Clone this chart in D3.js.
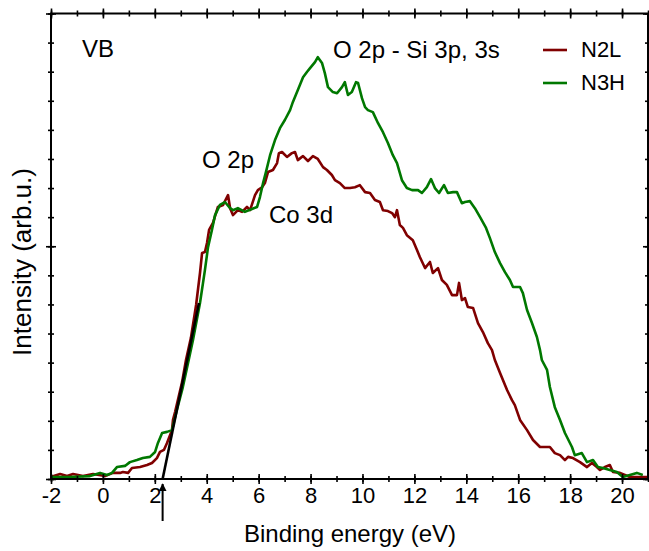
<!DOCTYPE html>
<html>
<head>
<meta charset="utf-8">
<script src="https://cdn.jsdelivr.net/npm/d3@7"></script>
<style>
  body { margin: 0; background: #fff; }
  text { font-family: "Liberation Sans", Arial, sans-serif; fill: #000; }
</style>
</head>
<body>
<div id="viz"></div>
<script>
// binding energy (eV) and intensity (arb.u.)
const n2lEnergy = [-2.00, -1.65, -1.38, -1.15, -0.77, -0.38, 0.08, 0.39, 0.66, 0.77, 0.97, 1.12, 1.43, 1.70, 1.89, 2.08, 2.20, 2.35, 2.47, 2.66, 2.70, 2.78, 3.05, 3.20, 3.39, 3.59, 3.74, 3.82, 3.93, 4.01, 4.09, 4.24, 4.43, 4.63, 4.82, 4.90, 5.01, 5.20, 5.36, 5.55, 5.67, 5.86, 5.97, 6.13, 6.24, 6.36, 6.55, 6.71, 6.78, 6.90, 7.09, 7.28, 7.40, 7.51, 7.71, 7.90, 8.09, 8.28, 8.48, 8.63, 8.82, 8.94, 9.13, 9.32, 9.52, 9.71, 9.90, 10.10, 10.29, 10.48, 10.67, 10.79, 10.98, 11.14, 11.25, 11.33, 11.44, 11.56, 11.71, 11.94, 12.10, 12.21, 12.41, 12.60, 12.71, 12.91, 13.06, 13.25, 13.45, 13.64, 13.72, 13.83, 13.95, 14.06, 14.26, 14.45, 14.64, 14.83, 14.99, 15.10, 15.30, 15.57, 15.76, 15.87, 16.07, 16.34, 16.57, 16.84, 17.22, 17.41, 17.61, 17.80, 17.92, 18.11, 18.38, 18.65, 18.84, 19.03, 19.15, 19.34, 19.53, 19.65, 19.92, 20.11, 20.30, 20.57, 20.80, 21.00];
const n2lIntensity = [0.07, 0.17, 0.10, 0.17, 0.10, 0.17, 0.10, 0.21, 0.21, 0.24, 0.21, 0.38, 0.41, 0.48, 0.55, 0.72, 0.93, 1.00, 1.24, 1.68, 2.03, 2.30, 3.33, 4.09, 4.85, 5.98, 7.08, 7.77, 7.80, 8.11, 8.56, 8.80, 9.35, 9.42, 9.76, 9.31, 9.07, 9.24, 9.18, 9.35, 9.24, 9.76, 9.93, 10.03, 10.17, 10.55, 10.62, 10.86, 11.20, 11.24, 11.07, 11.20, 11.24, 10.96, 11.10, 10.93, 11.10, 11.00, 10.72, 10.62, 10.45, 10.27, 10.17, 10.00, 10.00, 10.03, 10.10, 9.86, 9.83, 9.59, 9.52, 9.24, 9.21, 9.14, 9.00, 9.24, 8.73, 8.63, 8.38, 8.21, 7.87, 7.63, 7.25, 7.46, 7.08, 7.25, 6.84, 6.67, 6.32, 6.32, 6.74, 6.15, 6.22, 5.91, 5.88, 5.36, 5.05, 4.67, 4.43, 4.09, 3.64, 3.06, 2.71, 2.54, 2.03, 1.68, 1.34, 1.10, 1.10, 0.89, 0.82, 0.65, 0.76, 0.72, 0.58, 0.41, 0.55, 0.41, 0.31, 0.41, 0.48, 0.24, 0.21, 0.14, 0.07, 0.07, 0.07, 0.07];

const n3hEnergy = [-2.00, -1.27, -0.50, -0.11, 0.16, 0.35, 0.54, 0.85, 1.04, 1.31, 1.54, 1.81, 2.01, 2.12, 2.28, 2.47, 2.66, 2.85, 3.08, 3.28, 3.47, 3.74, 3.93, 4.05, 4.20, 4.32, 4.51, 4.70, 4.90, 5.01, 5.20, 5.47, 5.74, 5.94, 6.05, 6.17, 6.28, 6.44, 6.63, 6.82, 7.01, 7.21, 7.32, 7.51, 7.71, 7.86, 7.98, 8.17, 8.28, 8.44, 8.55, 8.67, 8.86, 9.02, 9.21, 9.32, 9.44, 9.59, 9.75, 9.83, 9.98, 10.10, 10.21, 10.40, 10.60, 10.79, 10.98, 11.17, 11.33, 11.52, 11.71, 11.91, 12.14, 12.29, 12.48, 12.64, 12.79, 12.95, 13.14, 13.29, 13.49, 13.64, 13.83, 13.95, 14.14, 14.33, 14.53, 14.76, 14.91, 15.10, 15.30, 15.49, 15.68, 15.80, 16.07, 16.18, 16.34, 16.53, 16.72, 16.84, 16.91, 17.11, 17.22, 17.41, 17.61, 17.80, 18.07, 18.18, 18.45, 18.65, 18.88, 19.07, 19.26, 19.53, 19.80, 20.03, 20.30, 20.57, 20.80];
const n3hIntensity = [0.07, 0.07, 0.10, 0.21, 0.14, 0.21, 0.41, 0.45, 0.58, 0.65, 0.72, 0.76, 0.93, 1.24, 1.58, 1.62, 1.68, 2.37, 3.16, 3.99, 4.78, 6.05, 7.18, 7.97, 8.56, 9.07, 9.42, 9.52, 9.31, 9.24, 9.31, 9.18, 9.28, 9.35, 9.69, 10.17, 10.55, 11.13, 11.65, 12.06, 12.34, 12.68, 12.96, 13.37, 13.81, 13.99, 14.12, 14.33, 14.50, 14.30, 13.95, 13.47, 13.30, 13.26, 13.47, 13.64, 13.20, 13.30, 13.64, 13.61, 13.09, 12.78, 12.68, 12.61, 12.23, 11.92, 11.55, 11.13, 10.86, 10.27, 10.00, 9.93, 9.93, 9.83, 10.03, 10.31, 10.00, 9.83, 10.10, 9.83, 9.86, 9.86, 9.48, 9.52, 9.55, 9.31, 9.00, 8.63, 8.28, 7.80, 7.42, 7.11, 6.84, 6.60, 6.60, 6.39, 5.81, 5.36, 4.88, 4.43, 4.09, 3.75, 3.16, 2.47, 2.03, 1.58, 1.10, 0.82, 0.89, 0.58, 0.65, 0.41, 0.38, 0.31, 0.24, 0.07, 0.14, 0.21, 0.14];

const seriesNames = ['N2L', 'N3H'];
const seriesColors = ['#800000', '#007800'];
const xTickValues = d3.range(-2, 21, 2);
const xMinorValues = d3.range(-2, 22, 1);
const yMinorValues = d3.range(0, 17, 1);
const yMajorValues = [0, 8, 16];

// onset tangent on the leading edge
const tangentEnergy = [2.30, 3.70];
const tangentIntensity = [0, 6.05];
const onsetEnergy = 2.30;

const annotations = [
  {text: 'VB', x: 82, y: 57},
  {text: 'O 2p - Si 3p, 3s', x: 333, y: 58},
  {text: 'O 2p', x: 202, y: 168},
  {text: 'Co 3d', x: 269, y: 223}
];

const W = 649, H = 551,
    margin = {top: 13.5, right: 1, bottom: 72, left: 51},
    width = W - margin.left - margin.right,
    height = H - margin.top - margin.bottom;

const svg = d3.select('#viz').append('svg')
    .attr('width', W)
    .attr('height', H);

const x = d3.scaleLinear().domain([-2, 21]).range([margin.left, margin.left + width]);
const y = d3.scaleLinear().domain([0, 16]).range([margin.top + height, margin.top]);

svg.append('defs').append('clipPath').attr('id', 'clip')
  .append('rect')
    .attr('x', margin.left).attr('y', margin.top)
    .attr('width', width).attr('height', height);

const line = d3.line()
    .x(d => x(d[0]))
    .y(d => y(d[1]));

const series = [
  d3.zip(n2lEnergy, n2lIntensity),
  d3.zip(n3hEnergy, n3hIntensity)
];

const plot = svg.append('g').attr('clip-path', 'url(#clip)');

series.forEach(function(pts, i) {
  plot.append('path')
      .datum(pts)
      .attr('fill', 'none')
      .attr('stroke', seriesColors[i])
      .attr('stroke-width', 2.6)
      .attr('stroke-linejoin', 'round')
      .attr('d', line);
});

plot.append('path')
    .datum(d3.zip(tangentEnergy, tangentIntensity))
    .attr('fill', 'none')
    .attr('stroke', '#000')
    .attr('stroke-width', 2.6)
    .attr('d', line);

// frame with crossing ticks
function tickAxis(axisFn, scale, values, size, pos) {
  const g = svg.append('g')
      .attr('transform', pos)
      .call(axisFn(scale).tickValues(values).tickSize(size).tickFormat(''));
  g.select('.domain').remove();
  g.selectAll('.tick line').attr('stroke', '#000').attr('stroke-width', 1.6);
  return g;
}

const xb = y(0), xt = y(16), yl = x(-2), yr = x(21);
[[xb, 3], [xb, -3], [xt, 3], [xt, -3]].forEach(function(a) {
  tickAxis(d3.axisBottom, x, xMinorValues, a[1], `translate(0,${a[0]})`);
});
[[xb, 5], [xb, -5], [xt, 5], [xt, -5]].forEach(function(a) {
  tickAxis(d3.axisBottom, x, xTickValues, a[1], `translate(0,${a[0]})`);
});
[[yl, 3], [yl, -3], [yr, 3], [yr, -3]].forEach(function(a) {
  tickAxis(d3.axisLeft, y, yMinorValues, a[1], `translate(${a[0]},0)`);
});
[[yl, 5], [yl, -5], [yr, 5], [yr, -5]].forEach(function(a) {
  tickAxis(d3.axisLeft, y, yMajorValues, a[1], `translate(${a[0]},0)`);
});

svg.append('rect')
    .attr('x', yl).attr('y', xt)
    .attr('width', yr - yl).attr('height', xb - xt)
    .attr('fill', 'none')
    .attr('stroke', '#000')
    .attr('stroke-width', 2);

// tick labels, plain hyphen for negatives as in the original
const xLabels = d3.axisBottom(x).tickValues(xTickValues).tickSize(0).tickPadding(8)
    .tickFormat(d => String(d));
const xl = svg.append('g')
    .attr('transform', `translate(0,${xb})`)
    .call(xLabels);
xl.select('.domain').remove();
xl.selectAll('text')
    .attr('font-size', 22)
    .attr('font-family', '"Liberation Sans", Arial, sans-serif')
    .attr('fill', '#000');

// axis titles
svg.append('text')
    .attr('x', 350).attr('y', 542)
    .attr('text-anchor', 'middle')
    .attr('font-size', 24)
    .text('Binding energy (eV)');

svg.append('text')
    .attr('transform', 'translate(31,262) rotate(-90)')
    .attr('text-anchor', 'middle')
    .attr('font-size', 26)
    .text('Intensity (arb.u.)');

// onset arrow
const defs = svg.select('defs');
defs.append('marker')
    .attr('id', 'head')
    .attr('viewBox', '0 0 10 10')
    .attr('refX', 9).attr('refY', 5)
    .attr('markerWidth', 4).attr('markerHeight', 4)
    .attr('orient', 'auto')
  .append('path')
    .attr('d', 'M0,0 L10,5 L0,10 Z')
    .attr('fill', '#000');

svg.append('line')
    .attr('x1', x(onsetEnergy)).attr('x2', x(onsetEnergy))
    .attr('y1', xb + 42).attr('y2', xb + 5)
    .attr('stroke', '#000')
    .attr('stroke-width', 2)
    .attr('marker-end', 'url(#head)');

// annotations
svg.selectAll('.note')
    .data(annotations)
    .enter().append('text')
    .attr('class', 'note')
    .attr('x', d => d.x)
    .attr('y', d => d.y)
    .attr('font-size', 24)
    .text(d => d.text);

// legend
const legend = svg.append('g').attr('transform', 'translate(543,50)');
seriesNames.forEach(function(name, i) {
  legend.append('line')
      .attr('x1', 0).attr('x2', 24)
      .attr('y1', i * 33).attr('y2', i * 33)
      .attr('stroke', seriesColors[i])
      .attr('stroke-width', 2.6);
  legend.append('text')
      .attr('x', 38).attr('y', i * 33 + 7)
      .attr('font-size', 22)
      .text(name);
});
</script>
</body>
</html>
